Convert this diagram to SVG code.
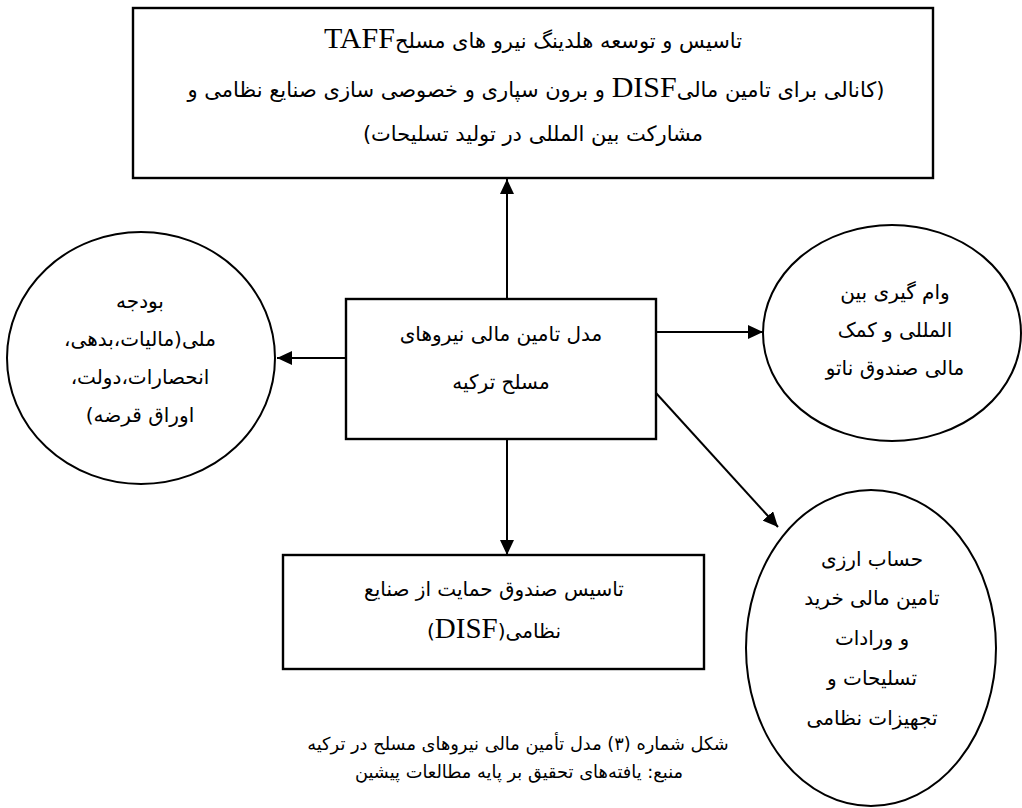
<svg xmlns="http://www.w3.org/2000/svg" width="1022" height="808" viewBox="0 0 1022 808">
<style>
.shape{fill:#fff;stroke:#000;stroke-width:2.4}
.ell{fill:#fff;stroke:#000;stroke-width:2}
.fa{font-family:"DejaVu Sans","Noto Sans",sans-serif;font-size:20px;fill:#000;text-anchor:middle;direction:rtl;unicode-bidi:embed}
.big{font-size:21px}
.cap{font-size:17.8px}
.lat{font-family:"Liberation Serif",serif;font-size:30px}
.conn{stroke:#000;stroke-width:2;fill:none}
</style>
<defs>
<marker id="ah" markerUnits="userSpaceOnUse" markerWidth="16" markerHeight="14" refX="15" refY="7" orient="auto">
<path d="M0,0 L15,7 L0,14 Z" fill="#000"/>
</marker>
</defs>
<rect width="1022" height="808" fill="#fff"/>
<g id="connectors">
<line class="conn" x1="507" y1="299" x2="507" y2="179" marker-end="url(#ah)"/>
<line class="conn" x1="346" y1="358" x2="277" y2="358" marker-end="url(#ah)"/>
<line class="conn" x1="656" y1="332" x2="763" y2="332" marker-end="url(#ah)"/>
<line class="conn" x1="656" y1="393" x2="778" y2="527" marker-end="url(#ah)"/>
<line class="conn" x1="507" y1="439" x2="507" y2="555" marker-end="url(#ah)"/>
</g>
<g id="top-box">
<rect class="shape" x="133" y="8" width="800" height="170"/>
<text class="fa big" x="533" y="48">تاسیس و توسعه هلدینگ نیرو های مسلح<tspan class="lat">TAFF</tspan></text>
<text class="fa big" x="536" y="97">(کانالی برای تامین مالی<tspan class="lat">DISF</tspan> و برون سپاری و خصوصی سازی صنایع نظامی و</text>
<text class="fa big" x="533" y="141">مشارکت بین المللی در تولید تسلیحات)</text>
</g>
<g id="center-box">
<rect class="shape" x="346" y="299" width="310" height="140"/>
<text class="fa" x="501" y="341">مدل تامین مالی نیروهای</text>
<text class="fa" x="501" y="389">مسلح ترکیه</text>
</g>
<g id="left-ellipse">
<ellipse class="ell" cx="141" cy="358" rx="134" ry="126"/>
<text class="fa" x="140" y="308">بودجه</text>
<text class="fa" x="140" y="346">ملی(مالیات،بدهی،</text>
<text class="fa" x="140" y="384">انحصارات،دولت،</text>
<text class="fa" x="140" y="422">اوراق قرضه)</text>
</g>
<g id="right-ellipse">
<ellipse class="ell" cx="892" cy="333" rx="129" ry="108"/>
<text class="fa" x="895" y="299">وام گیری بین</text>
<text class="fa" x="895" y="337">المللی و کمک</text>
<text class="fa" x="895" y="375">مالی صندوق ناتو</text>
</g>
<g id="bottom-right-ellipse">
<ellipse class="ell" cx="871" cy="648" rx="125" ry="158"/>
<text class="fa" x="872" y="566">حساب ارزی</text>
<text class="fa" x="872" y="605">تامین مالی خرید</text>
<text class="fa" x="872" y="645">و ورادات</text>
<text class="fa" x="872" y="685">تسلیحات و</text>
<text class="fa" x="872" y="725">تجهیزات نظامی</text>
</g>
<g id="bottom-box">
<rect class="shape" x="283" y="555" width="421" height="114"/>
<text class="fa" x="494" y="596">تاسیس صندوق حمایت از صنایع</text>
<text class="fa" x="494" y="638">نظامی(<tspan class="lat" style="font-size:29px">DISF</tspan>)</text>
</g>
<g id="caption">
<text class="fa cap" x="518" y="750">شکل شماره (۳) مدل تأمین مالی نیروهای مسلح در ترکیه</text>
<text class="fa cap" x="519" y="778">منبع: یافته‌های تحقیق بر پایه مطالعات پیشین</text>
</g>
</svg>
